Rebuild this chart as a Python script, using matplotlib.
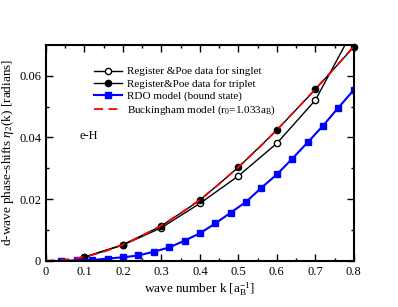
import matplotlib
matplotlib.use('Agg')
import matplotlib.pyplot as plt

plt.rcParams['font.family'] = ['Liberation Serif', 'DejaVu Serif']
plt.rcParams['mathtext.fontset'] = 'custom'
plt.rcParams['mathtext.rm'] = 'Liberation Serif'
plt.rcParams['mathtext.it'] = 'Liberation Serif:italic'

# Register & Poe data
k_data = [0.1, 0.2, 0.3, 0.4, 0.5, 0.6, 0.7, 0.8]
singlet = [0.0011, 0.0051, 0.0107, 0.0186, 0.0275, 0.0381, 0.0521, 0.0753]
triplet = [0.0012, 0.0052, 0.0113, 0.0196, 0.0303, 0.0424, 0.0556, 0.0694]

# RDO model (bound state)
k_rdo = [0.04, 0.08, 0.12, 0.16, 0.20, 0.24, 0.28, 0.32, 0.36, 0.40,
         0.44, 0.48, 0.52, 0.56, 0.60, 0.64, 0.68, 0.72, 0.76, 0.80]
rdo = [0.0000, 0.0001, 0.0002, 0.0007, 0.0011, 0.0017, 0.0029, 0.0043, 0.0065, 0.0089,
       0.0121, 0.0156, 0.0191, 0.0237, 0.0280, 0.0331, 0.0384, 0.0438, 0.0497, 0.0554]

# Buckingham model
k_buck = [0.0, 0.05, 0.1, 0.15, 0.2, 0.25, 0.3, 0.35, 0.4, 0.45,
          0.5, 0.55, 0.6, 0.65, 0.7, 0.75, 0.8]
buck = [0.0, 0.0003, 0.0012, 0.0029, 0.0052, 0.0081, 0.0115, 0.0154, 0.0198, 0.0249,
        0.0304, 0.0362, 0.0425, 0.0490, 0.0557, 0.0625, 0.0696]

xticks = [0, 0.1, 0.2, 0.3, 0.4, 0.5, 0.6, 0.7, 0.8]
xticklabels = ['0', '0.1', '0.2', '0.3', '0.4', '0.5', '0.6', '0.7', '0.8']
yticks = [0, 0.02, 0.04, 0.06]
yticklabels = ['0', '0.02', '0.04', '0.06']

fig = plt.figure(figsize=(3.98, 3.07), dpi=100)
ax = fig.add_axes([0.1156, 0.1508, 0.7734, 0.7026])

ax.plot(k_data, singlet, color='k', lw=1.0, marker='o', ms=4.5, mfc='white',
        mec='k', mew=1.0, label='Register &Poe data for singlet')
ax.plot(k_data, triplet, color='k', lw=1.0, marker='o', ms=4.5, mfc='k',
        mec='k', label='Register&Poe data for triplet', clip_on=False)
ax.plot(k_rdo, rdo, color='#0000ff', lw=1.5, marker='s', ms=3.8,
        label='RDO model (bound state)')
ax.plot(k_buck, buck, color='#ff0000', lw=1.3, ls=(0, (5, 3)),
        label=r'Buckingham model (r$_0$=1.033a$_\mathrm{B}$)')

ax.set_xlim(0, 0.8)
ax.set_ylim(0, 0.07)
ax.set_xticks(xticks)
ax.set_xticklabels(xticklabels)
ax.set_xticks([0.05, 0.15, 0.25, 0.35, 0.45, 0.55, 0.65, 0.75], minor=True)
ax.set_yticks(yticks)
ax.set_yticklabels(yticklabels)
ax.set_yticks([0.01, 0.03, 0.05], minor=True)
ax.tick_params(which='both', direction='in', top=True, right=True, labelsize=9)
ax.tick_params(which='major', length=5, width=1.0)
ax.tick_params(which='minor', length=2.5, width=1.0)
for s in ax.spines.values():
    s.set_linewidth(1.5)

ax.set_xlabel(r'wave number k [a$_\mathrm{B}^{-1}$]', fontsize=9.5, labelpad=2)
ax.set_ylabel(r'd-wave phase-shifts $\eta_2$(k) [radians]', fontsize=9.5, labelpad=2)
ax.text(0.086, 0.0404, 'e-H', fontsize=9, va='center')

ax.legend(loc='upper left', bbox_to_anchor=(0.14, 0.92), frameon=False,
          fontsize=8, handlelength=2.6, handletextpad=0.4, labelspacing=0.22,
          borderaxespad=0)

fig.savefig('out.png', dpi=100)
